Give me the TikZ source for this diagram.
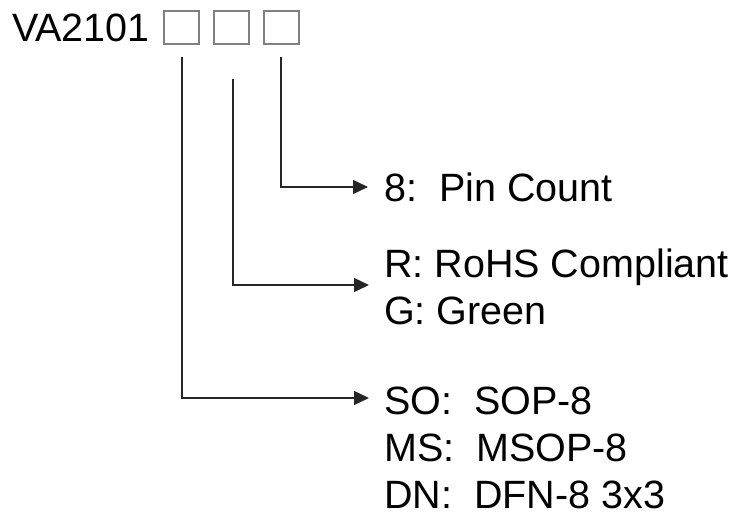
\documentclass[tikz,border=0pt]{standalone}
\usepackage{fontspec}
\setmainfont{Liberation Sans}
\usetikzlibrary{arrows.meta}
\begin{document}
\frenchspacing
\begin{tikzpicture}[x=1pt,y=-1pt,
  txt/.style={anchor=base west,inner sep=0pt,font=\fontsize{39.5}{47}\selectfont},
  slot/.style={draw=black!50,line width=1.3pt,minimum width=35pt,minimum height=33pt,inner sep=0pt},
  conn/.style={line width=1.4pt,draw=black!85,-{Triangle[length=15pt,width=14pt]}}]
\useasboundingbox (0,0) rectangle (734,516);
\node[txt] (pn) at (12,42) {VA2101};
\node[slot] (b1) at (181.5,27.5) {};
\node[slot] (b2) at (231.5,27.5) {};
\node[slot] (b3) at (281.5,27.5) {};
\coordinate (s1) at (182,57);
\coordinate (s2) at (233,79);
\coordinate (s3) at (281,57);
\coordinate (t1) at (369,398);
\coordinate (t2) at (369,285);
\coordinate (t3) at (368,187);
\node[txt] (pin) at (384,201) {8:\ \ Pin Count};
\node[txt] (rohs) at (384,277) {R: RoHS Compliant};
\node[txt] (grn) at (384,324) {G: Green};
\node[txt] (so) at (384,414) {SO:\ \ SOP-8};
\node[txt] (ms) at (384,461) {MS:\ \ MSOP-8};
\node[txt] (dn) at (384,508) {DN:\ \ DFN-8 3x3};
\draw[conn] (s3) |- (t3);
\draw[conn] (s2) |- (t2);
\draw[conn] (s1) |- (t1);
\end{tikzpicture}
\end{document}
